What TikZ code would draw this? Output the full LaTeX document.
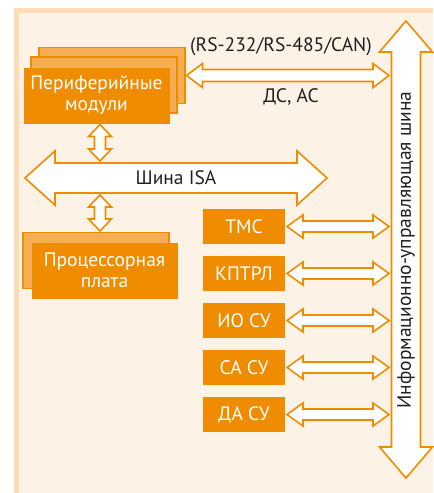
\documentclass[tikz,border=0pt]{standalone}
\usepackage{fontspec}
\setmainfont{PT Sans}
\usetikzlibrary{calc}

\definecolor{brandorange}{HTML}{F08C00}
\definecolor{lightorange}{HTML}{F6AE55}
\definecolor{panelbg}{HTML}{FDF2E6}
\definecolor{panelrim}{HTML}{FDDCB5}
\definecolor{labeltext}{HTML}{231F20}

\tikzset{
  busline/.style={draw=brandorange, line width=1.6pt, fill=white, line join=miter},
  modfront/.style={fill=brandorange, text=white, minimum width=146pt, minimum height=56pt,
    align=center, outer sep=1pt, font=\fontsize{19.5}{21}\selectfont},
  modback/.style={fill=lightorange, draw=brandorange, line width=1.2pt, minimum width=146pt,
    minimum height=56pt, outer sep=1.5pt},
  unitbox/.style={fill=brandorange, text=white, minimum width=82pt, minimum height=35pt,
    outer sep=2pt, font=\fontsize{19.5}{21}\selectfont},
  buslabel/.style={text=labeltext, font=\fontsize{19.5}{21}\selectfont},
}

% wide double arrow, left to right: ends, shaft half width, head half width, head length
\newcommand{\hbus}[5]{%
  \draw[busline] let \p1=(#1), \p2=(#2) in
    (\x1,\y1) -- (\x1+#5,\y1+#4) -- (\x1+#5,\y1+#3) -- (\x2-#5,\y1+#3)
    -- (\x2-#5,\y1+#4) -- (\x2,\y1) -- (\x2-#5,\y1-#4) -- (\x2-#5,\y1-#3)
    -- (\x1+#5,\y1-#3) -- (\x1+#5,\y1-#4) -- cycle;}
% same, top to bottom
\newcommand{\vbus}[5]{%
  \draw[busline] let \p1=(#1), \p2=(#2) in
    (\x1,\y1) -- (\x1+#4,\y1-#5) -- (\x1+#3,\y1-#5) -- (\x1+#3,\y2+#5)
    -- (\x1+#4,\y2+#5) -- (\x1,\y2) -- (\x1-#4,\y2+#5) -- (\x1-#3,\y2+#5)
    -- (\x1-#3,\y1-#5) -- (\x1-#4,\y1-#5) -- cycle;}

\begin{document}
\begin{tikzpicture}[x=1pt, y=-1pt]
    % Panel
    \fill[white] (0,0) rectangle (433,493);
    \fill[panelrim] (14,8) rectangle (433,493);
    \fill[panelbg] (19,13) rectangle (433,493);

    % Peripheral modules (stack of three)
    \node[modback] (periphC) at (112,75.5) {};
    \node[modback] (periphB) at (104,85) {};
    \node[modfront] (periph) at (96.5,95.5) {Периферийные\\модули};

    % Processor board
    \node[modback] (cpuB) at (96,260.5) {};
    \node[modfront] (cpu) at (104.5,270.5) {Процессорная\\плата};

    % ISA bus
    \coordinate (isaL) at (25,178);
    \coordinate (isaR) at (327,178);
    \hbus{isaL}{isaR}{15pt}{27pt}{30pt}
    \node[buslabel] (isa) at (176,178) {Шина ISA};

    % Links to the ISA bus
    \coordinate (isaTop) at (100,161);
    \coordinate (isaBot) at (100,195);
    \vbus{periph.south -| isaTop}{isaTop}{5.5pt}{11.5pt}{12pt}
    \vbus{isaBot}{cpuB.north -| isaBot}{5.5pt}{11.5pt}{12pt}

    % Information and control bus
    \coordinate (infoT) at (406,21);
    \coordinate (infoB) at (406,478);
    \vbus{infoT}{infoB}{14.5pt}{26.5pt}{31pt}
    \node[buslabel, rotate=90] (info) at (406,250) {Информационно-управляющая шина};
    \coordinate (infoW) at (389,0); % where the links stop

    % Serial link
    \hbus{periphC.east}{periphC.east -| infoW}{6pt}{12pt}{16pt}
    \node[buslabel] (serial) at (281,47) {(RS-232/RS-485/CAN)};
    \node[buslabel] (dcac) at (291,97) {ДС, АС};

    % Control units
    \foreach \name/\txt/\yy in {tms/ТМС/226.5, kptrl/КПТРЛ/273.5, io/ИО СУ/320.5,
                                sa/СА СУ/367.5, da/ДА СУ/414.5} {
        \node[unitbox] (\name) at (244,\yy) {\txt};
        \hbus{\name.east}{\name.east -| infoW}{5.5pt}{11.5pt}{16pt}
    }
\end{tikzpicture}
\end{document}
